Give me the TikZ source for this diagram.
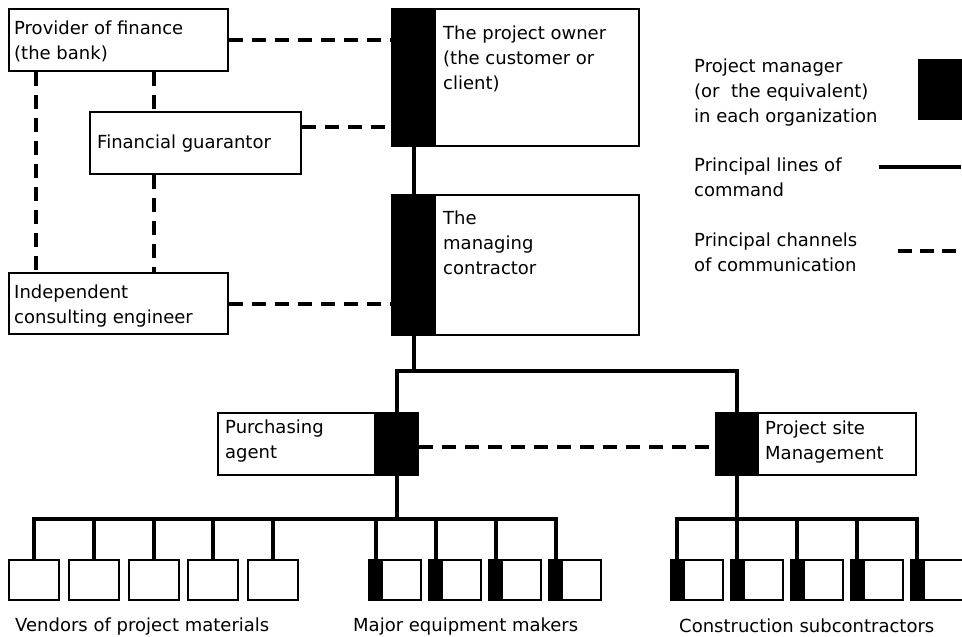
\documentclass[tikz,border=0pt]{standalone}
\usepackage{fontspec}
\setmainfont{DejaVu Sans}
\newcommand{\lblfont}{\fontsize{18}{25}\selectfont}
\begin{document}
\begin{tikzpicture}[x=1pt,y=-1pt,
  box/.style={draw, line width=2pt, rectangle, inner sep=0pt, anchor=north west, fill=white},
  pmbox/.style={draw, fill=black, line width=2pt, rectangle, inner sep=0pt, anchor=north west},
  txt/.style={anchor=north west, inner sep=0pt, align=left, font=\lblfont},
  cmd/.style={line width=4pt},
  comm/.style={line width=4pt, dash pattern=on 14pt off 9pt},
]
\useasboundingbox (0,0) rectangle (962,637);

% upper left boxes
\node[box, minimum width=219pt, minimum height=62pt] (prov) at (8,8) {};
\node[box, minimum width=211pt, minimum height=62pt] (guar) at (89,111) {};
\node[box, minimum width=219pt, minimum height=61pt] (indep) at (8,272) {};

% owner and managing contractor
\node[box, minimum width=247pt, minimum height=137pt] (own) at (391,8) {};
\node[pmbox, minimum width=43pt, minimum height=137pt] (ownpm) at (391,8) {};
\node[box, minimum width=247pt, minimum height=140pt] (mgr) at (391,194) {};
\node[pmbox, minimum width=43pt, minimum height=140pt] (mgrpm) at (391,194) {};

% purchasing agent and project site
\node[box, minimum width=200pt, minimum height=62pt] (pur) at (217,412) {};
\node[pmbox, minimum width=43pt, minimum height=62pt] (ppm) at (374,412) {};
\node[box, minimum width=200pt, minimum height=62pt] (site) at (715,412) {};
\node[pmbox, minimum width=42pt, minimum height=62pt] (spm) at (715,412) {};

% small boxes
\foreach \i/\s in {1/8,2/67.75,3/127.5,4/187.25,5/247}
  \node[box, minimum width=50pt, minimum height=40pt] (v\i) at (\s,559) {};
\foreach \i/\s in {1/368,2/428,3/488,4/548} {
  \node[box, minimum width=52pt, minimum height=40pt] (m\i) at (\s,559) {};
  \node[pmbox, minimum width=13pt, minimum height=40pt] (mp\i) at (\s,559) {};
}
\foreach \i/\s in {1/669.5,2/729.5,3/789.5,4/849.5,5/909.5} {
  \node[box, minimum width=52pt, minimum height=40pt] (c\i) at (\s,559) {};
  \node[pmbox, minimum width=13pt, minimum height=40pt] (cp\i) at (\s,559) {};
}

% texts
\node[txt] (provt) at (14,17) {\strut Provider of finance\\(the bank)};
\node[txt] (guart) at (97,131) {\strut Financial guarantor};
\node[txt] (indept) at (14,281) {\strut Independent\\consulting engineer};
\node[txt] (ownt) at (443,22) {\strut The project owner\\(the customer or\\client)};
\node[txt] (mgrt) at (443,207) {\strut The\\managing\\contractor};
\node[txt] (purt) at (225,416) {\strut Purchasing\\agent};
\node[txt] (sitet) at (765,417) {\strut Project site\\Management};
\node[txt] (vendt) at (15,614) {\strut Vendors of project materials};
\node[txt] (majt) at (353,614) {\strut Major equipment makers};
\node[txt] (const) at (679,615) {\strut Construction subcontractors};

% legend
\node[txt] (leg1) at (694,55) {\strut Project manager\\(or\ \ the equivalent)\\in each organization};
\node[pmbox, minimum width=42pt, minimum height=59pt] (legpm) at (918,59) {};
\node[txt] (leg2) at (694,154) {\strut Principal lines of\\command};
\coordinate (la) at (879,167);
\coordinate (lb) at (961,167);
\draw[cmd] (la) -- (lb);
\node[txt] (leg3) at (694,229) {\strut Principal channels\\of communication};
\coordinate (da) at (898,251);
\coordinate (db) at (958,251);
\draw[comm, dash pattern=on 14pt off 8pt] (da) -- (db);

% communication channels
\draw[comm] (prov.east) -- (prov.east -| ownpm.west);
\draw[comm] (guar.east |- 0,127) -- (ownpm.west |- 0,127);
\draw[comm] (indep.east) -- (indep.east -| mgrpm.west);
\draw[comm] (prov.south -| 36,0) -- (indep.north -| 36,0);
\draw[comm] (prov.south -| 153.5,0) -- (guar.north -| 153.5,0);
\draw[comm] (guar.south -| 153.5,0) -- (indep.north -| 153.5,0);
\draw[comm] ([yshift=-3pt]ppm.east) -- ([yshift=-3pt]spm.west);

% lines of command
\draw[cmd] (ownpm.south) -- (mgrpm.north);
\draw[cmd] (mgrpm.south) -- ++(0,35) -| (ppm.north);
\draw[cmd] (mgrpm.south) -- ++(0,35) -| (spm.north);
\coordinate (pj) at (ppm.south |- 0,519);
\draw[cmd] (ppm.south) -- (pj);
\foreach \n in {v1,v2,v3,v4,v5,mp1,mp2,mp3,mp4}
  \draw[cmd] (pj) -| (\n.north);
\coordinate (sj) at (spm.south |- 0,519);
\draw[cmd] (spm.south) -- (cp2.north);
\foreach \n in {cp1,cp3,cp4,cp5}
  \draw[cmd] (sj) -| (\n.north);
\end{tikzpicture}
\end{document}
